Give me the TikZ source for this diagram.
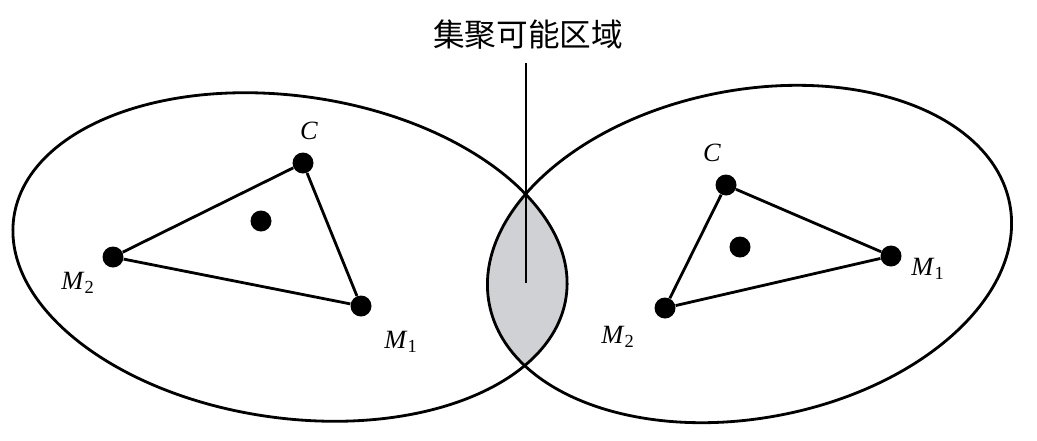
\documentclass[tikz,border=0pt]{standalone}
\usepackage{fontspec}
\setmainfont{Liberation Serif}
\newfontfamily\cjk{Noto Sans CJK SC}
\definecolor{lensgray}{RGB}{207,209,212}
\begin{document}
\begin{tikzpicture}[
		x=0.02cm, y=-0.02cm,
		% Pallini neri pieni per i vertici e il baricentro
		dot style/.style={circle, fill=black, inner sep=0pt, minimum size=0.42cm},
		% Etichette dei vertici (corsivo)
		label style/.style={inner sep=0pt, font=\fontsize{15}{17}\selectfont},
		% Stile per i lati del triangolo e per le ellissi
		edge style/.style={line width=1.6pt, color=black},
		region style/.style={line width=1.6pt, color=black},
		% Linea di richiamo verso la regione comune
		leader style/.style={line width=1pt, color=black}
	]
	\useasboundingbox (0,0) rectangle (1037,440);

	% =================================
	% REGIONE COMUNE (riempimento grigio)
	% =================================
	\begin{scope}
		\clip[rotate around={-8.2:(290,257)}] (290,257) ellipse [x radius=279, y radius=161];
		\fill[lensgray, rotate around={10.9:(749.5,254)}] (749.5,254) ellipse [x radius=265, y radius=164];
	\end{scope}

	% =================================
	% ELLISSI
	% =================================
	\draw[region style, rotate around={-8.2:(290,257)}] (290,257) ellipse [x radius=279, y radius=161];
	\draw[region style, rotate around={10.9:(749.5,254)}] (749.5,254) ellipse [x radius=265, y radius=164];

	% =================================
	% TRIANGOLO SINISTRO
	% =================================
	\node[dot style] (lC) at (303,163) {};
	\node[dot style] (lM2) at (113,257) {};
	\node[dot style] (lM1) at (361,306) {};
	\node[dot style] (lG) at (261,221) {};

	\node[label style] (tlC) at (309,131) {\textit{C}};
	\node[label style] (tlM2) at (78,283) {\textit{M}\textsubscript{2}};
	\node[label style] (tlM1) at (401,342) {\textit{M}\textsubscript{1}};

	\draw[edge style] (lC) -- (lM2);
	\draw[edge style] (lM2) -- (lM1);
	\draw[edge style] (lM1) -- (lC);

	% =================================
	% TRIANGOLO DESTRO
	% =================================
	\node[dot style] (rC) at (726,185) {};
	\node[dot style] (rM1) at (891,256) {};
	\node[dot style] (rM2) at (665,308) {};
	\node[dot style] (rG) at (740,247) {};

	\node[label style] (trC) at (712,153) {\textit{C}};
	\node[label style] (trM1) at (928,269) {\textit{M}\textsubscript{1}};
	\node[label style] (trM2) at (618,337) {\textit{M}\textsubscript{2}};

	\draw[edge style] (rC) -- (rM1);
	\draw[edge style] (rM1) -- (rM2);
	\draw[edge style] (rM2) -- (rC);

	% =================================
	% TITOLO E RICHIAMO
	% =================================
	\node[inner sep=0pt, font=\cjk\fontsize{18}{20}\selectfont] (title) at (528,35) {集聚可能区域};
	\coordinate (lensc) at (526,283);
	\draw[leader style, shorten <=7.4pt] (title.south -| lensc) -- (lensc);

\end{tikzpicture}
\end{document}
